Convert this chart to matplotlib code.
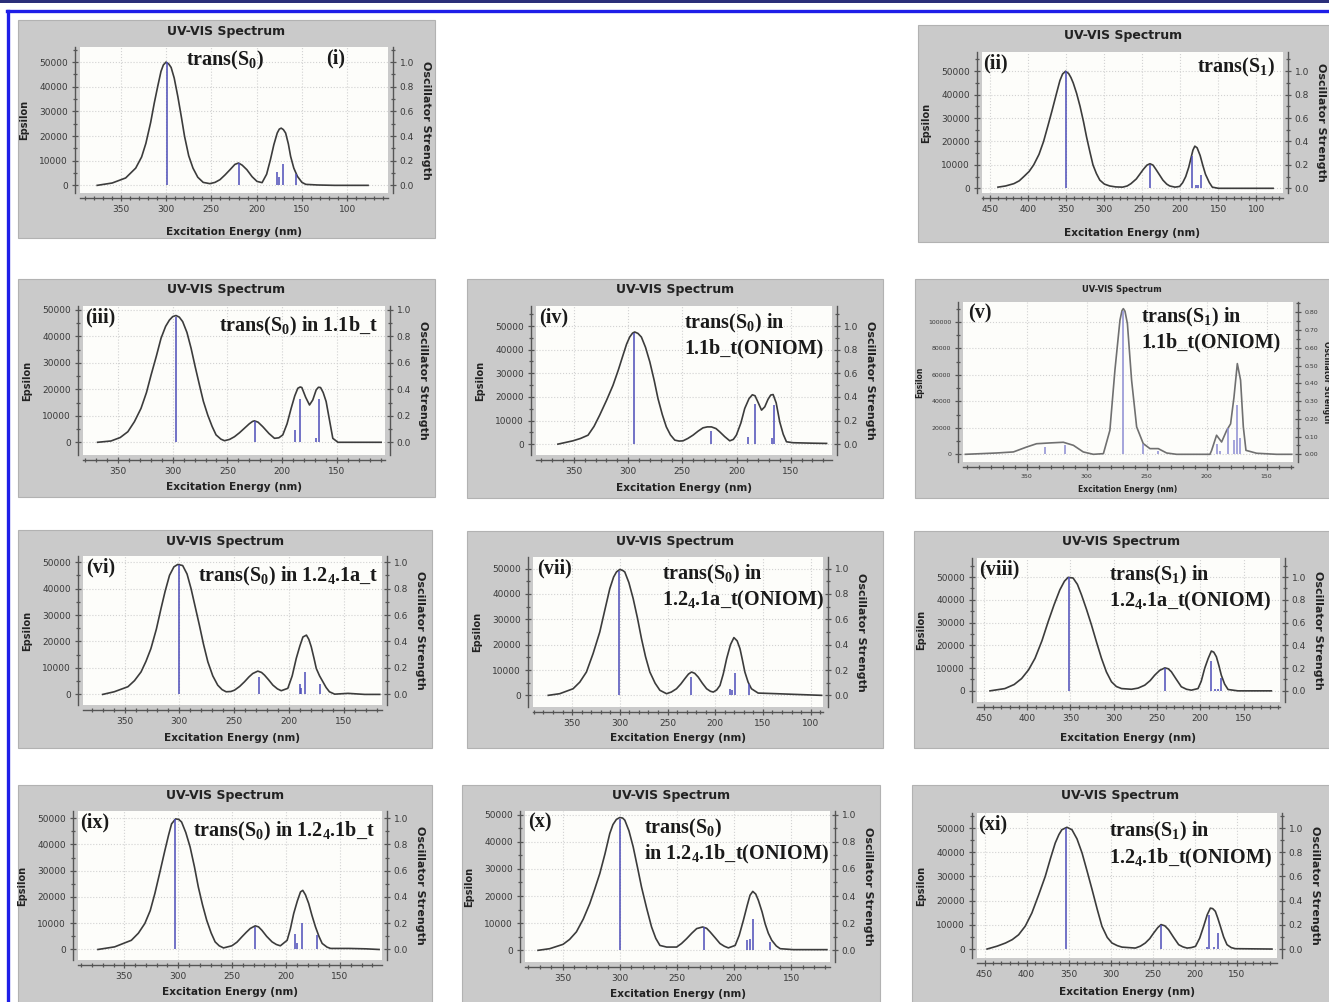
import matplotlib
matplotlib.use('Agg')
import matplotlib.pyplot as plt
from matplotlib.patches import Rectangle
from matplotlib.lines import Line2D
from matplotlib.ticker import MultipleLocator, FixedLocator, FormatStrFormatter

plt.rcParams['mathtext.default'] = 'regular'

W, H = 1329, 1002

# ---------- values: (nm, epsilon) curve points and sticks ----------
# (i) trans(S0)
i_curve = [(376, 0), (359.5, 950), (344.6, 3000), (333.5, 7000), (327, 11500), (322.3, 17000),
           (317, 25500), (313, 33400), (309, 40500), (305.6, 46200), (303, 48800), (300, 50000),
           (297, 49200), (294.4, 47800), (291, 43500), (287, 36000), (283, 27500), (279.6, 19900),
           (275, 12000), (270.3, 7000), (265, 3300), (259, 1200), (251.7, 700), (246, 1200),
           (240.5, 2300), (235, 4200), (229.4, 6350), (224, 8500), (220, 9050), (216, 8200),
           (210.8, 6350), (205, 3500), (199.6, 1600), (194, 1100), (189, 4500), (184.8, 10400),
           (181, 16500), (177.3, 21200), (175, 22800), (172.9, 23200), (170.5, 22600), (168, 21200),
           (165, 16800), (162.5, 11750), (159, 7000), (155, 3650), (150, 1200), (145.7, 400),
           (132.7, 150), (114, 0), (77, 0)]
i_snm = [299, 219.5, 178, 175.5, 170.6, 157]
i_sf = [1.0, 0.18, 0.11, 0.07, 0.17, 0.09]

# (ii) trans(S1)
ii_curve = [(440, 500), (430, 1000), (419, 2000), (412, 3200), (406, 5000), (399, 7200), (393, 10000),
            (386, 14500), (380, 20000), (374, 27000), (369, 33000), (363, 40500), (358.5, 46000),
            (355, 48800), (351, 50000), (347, 49000), (344, 47300), (341, 45000), (336.5, 40500),
            (332, 35000), (327.5, 28500), (323.5, 22000), (319, 15500), (315, 10000), (310.5, 6300),
            (306, 3500), (300, 1800), (293, 1000), (285, 600), (276, 500), (270, 1000), (265, 2000),
            (258, 4000), (253, 6200), (249, 8000), (244, 9900), (240, 10500), (236, 9900), (232, 8000),
            (227, 5500), (223, 3500), (218, 1800), (214, 1000), (207, 500), (201, 800), (197, 2400),
            (193, 5000), (189, 9000), (186, 13000), (183.5, 16300), (181, 18000), (178, 17300),
            (174, 14000), (170.5, 9800), (167, 6000), (162, 2500), (158, 500), (150, 0), (120, 0),
            (78, 0)]
ii_snm = [351, 240, 185, 180, 177, 172.5]
ii_sf = [1.0, 0.2, 0.28, 0.03, 0.03, 0.11]

# (iii) trans(S0) in 1.1b_t
iii_curve = [(368.6, 0), (356.4, 500), (348, 1800), (341, 4000), (335, 7800), (329, 12800),
             (324, 18800), (319.8, 25400), (315, 32500), (310.7, 39300), (306.5, 43800), (303, 46200),
             (300, 47500), (297, 47900), (294, 47300), (290.9, 45600), (287, 41500), (283.2, 35500),
             (279.5, 28600), (275.6, 21700), (272, 15500), (268, 10300), (264, 6000), (260.4, 2800),
             (256, 1200), (252.7, 600), (248, 1100), (243.6, 2100), (239, 3600), (234.5, 5300),
             (230, 7000), (227, 7900), (225.3, 8100), (222, 7600), (217.7, 5900), (212, 3300),
             (207, 1500), (203, 1700), (199.4, 2800), (195.5, 7000), (191.8, 12800), (188.5, 17500),
             (185.7, 20400), (183.5, 20900), (182, 20700), (178.5, 17000), (175, 14100), (172, 16000),
             (168.9, 19800), (166.8, 20800), (164.9, 20700), (162.5, 18800), (159.8, 15400),
             (157, 9000), (153.7, 1500), (149, 0), (109.5, 0)]
iii_snm = [297, 224.7, 188.7, 183.5, 169, 165.9]
iii_sf = [0.95, 0.16, 0.09, 0.33, 0.03, 0.33]

# (iv) trans(S0) in 1.1b_t(ONIOM)
iv_curve = [(364.8, 0), (351, 1400), (344, 2400), (337, 3800), (331.5, 7500), (326.3, 12250),
            (320, 18500), (314, 24900), (309, 31500), (304.8, 37600), (301.5, 42300), (298.6, 45350),
            (296, 47000), (294, 47500), (291, 46900), (287.8, 45350), (284, 41000), (280, 34800),
            (276, 27000), (272.5, 19300), (268.5, 12500), (264.8, 7300), (261, 3900), (257, 1700),
            (253, 1300), (249.4, 1400), (245, 2400), (240.2, 3800), (235.5, 5500), (231, 6900),
            (227, 7300), (223.2, 7300), (219, 6600), (215.5, 5200), (211, 3200), (206.3, 1400),
            (203, 2000), (200.2, 3800), (196, 9000), (192.5, 15100), (188.5, 19300), (185.5, 20900),
            (183, 20500), (180, 17500), (177, 14400), (174, 15800), (171, 19000), (168.5, 20800),
            (166.3, 21000), (163.5, 17500), (160.2, 9400), (157, 4200), (154, 1000), (147.8, 600),
            (130, 400), (117, 300)]
iv_snm = [294.5, 224, 189.2, 183, 167.7, 165.5]
iv_sf = [0.94, 0.11, 0.06, 0.34, 0.05, 0.33]

# (v) trans(S1) in 1.1b_t(ONIOM)
v_curve = [(401, 0), (375, 1000), (361, 1800), (350, 5500), (341.7, 8000), (330.6, 8600),
           (319.4, 9100), (311, 6800), (302.8, 1800), (294.4, 0), (286, 500), (280.6, 18100),
           (276.4, 63500), (272.2, 101300), (270.5, 108500), (269.4, 110000), (268, 108000),
           (266, 98700), (262.5, 55900), (258.3, 20700), (252.8, 8100), (247.2, 4300), (240.3, 4300),
           (233.3, 1000), (225, 0), (197.2, 0), (195.8, 3000), (191.7, 14400), (187.5, 9300),
           (183.3, 18000), (180, 23000), (177.2, 43000), (174.4, 68500), (171.7, 56000),
           (169.4, 20700), (167.2, 3000), (158.3, 800), (141.7, 0), (129, 0)]
v_snm = [334.7, 318, 269.4, 252.8, 240.3, 191.7, 189, 182, 177, 175, 172]
v_sf = [0.04, 0.05, 0.81, 0.06, 0.02, 0.06, 0.02, 0.15, 0.08, 0.28, 0.09]

# (vi) trans(S0) in 1.2_4.1a_t
vi_curve = [(370, 0), (359.5, 1000), (347, 2900), (341, 5200), (335, 8500), (330.5, 12500),
            (326, 17300), (321, 24700), (316.8, 32400), (313, 39000), (309, 45000), (305, 48200),
            (301.5, 49100), (297, 48700), (293, 45500), (289.3, 39900), (285.5, 33000),
            (281.7, 26100), (278, 19000), (274, 12300), (269.5, 7000), (265, 3500), (261, 1800),
            (257.3, 1000), (253, 1100), (249.7, 1600), (245, 3000), (240.5, 4800), (236.5, 6600),
            (233, 7900), (228.4, 8800), (225, 8300), (222.3, 7300), (218.5, 5500), (214.6, 3500),
            (210.5, 2100), (207, 1400), (201, 2300), (197, 7000), (193.3, 13600), (190, 18300),
            (187.2, 21700), (184, 22400), (181.8, 20800), (179.6, 18000), (177, 13500), (175, 9800),
            (172, 7000), (169, 4800), (166, 2600), (163, 1000), (158.2, 100), (146, 400),
            (130.8, 0), (117, 0)]
vi_snm = [300, 227.7, 190.2, 188.7, 185, 172]
vi_sf = [0.98, 0.13, 0.08, 0.05, 0.17, 0.075]

# (vii) trans(S0) in 1.2_4.1a_t(ONIOM)
vii_curve = [(375, 0), (363, 650), (349, 2600), (342, 5200), (335, 9200), (328, 16500), (321, 25000),
             (315.5, 34000), (310.5, 42100), (306.5, 46700), (303.5, 48700), (300, 49700),
             (297, 49300), (294.8, 48700), (290.5, 44500), (286, 38200), (281.5, 30500),
             (277.3, 22400), (273, 15200), (268.5, 9200), (263, 4800), (258, 2000), (251, 650),
             (246, 1300), (240.6, 2600), (236, 4500), (231.8, 6600), (228, 8400), (224.8, 9200),
             (221.5, 8700), (217.8, 7200), (213.5, 4800), (209, 2600), (205, 1600), (202, 1300),
             (198.5, 2100), (195, 3900), (191.5, 8500), (188, 14500), (184, 20000), (180.4, 22800),
             (177, 21500), (174, 18400), (171.5, 14000), (168.9, 9200), (165.5, 5200), (162, 2600),
             (155, 900), (135.7, 650), (118, 400), (88.5, 0)]
vii_snm = [300.7, 225.5, 184.6, 182.9, 179.4, 165]
vii_sf = [0.98, 0.145, 0.05, 0.04, 0.18, 0.09]

# (viii) trans(S1) in 1.2_4.1a_t(ONIOM)
viii_curve = [(443, 0), (425.8, 1000), (415, 2800), (406.5, 5400), (398.5, 9200), (391, 14300),
              (383, 22000), (375.8, 30400), (369, 37800), (362.3, 44400), (357, 48200),
              (352.7, 49900), (347, 49600), (342, 46800), (337.3, 42200), (331.5, 35800),
              (325.8, 29000), (320, 21500), (314.2, 14300), (308.5, 8300), (302.7, 4000),
              (297, 1900), (291, 1000), (279.6, 700), (272, 1200), (264.2, 2500), (258, 4500),
              (252.7, 6900), (247, 9000), (241, 10100), (237, 9700), (233.5, 8400), (228, 5200),
              (222, 1800), (216, 700), (210.4, 300), (202.7, 1000), (199, 4200), (195, 9900),
              (191, 14200), (187.3, 17500), (184.5, 17000), (181.5, 15000), (178.5, 11000),
              (175.8, 6900), (172, 3000), (168, 600), (156.5, 0), (118, 0)]
viii_snm = [352, 241, 187.3, 183.5, 179.6, 175.8]
viii_sf = [1.0, 0.2, 0.26, 0.02, 0.02, 0.11]

# (ix) trans(S0) in 1.2_4.1b_t
ix_curve = [(374.5, 0), (359, 1000), (343.5, 3500), (337, 6200), (331, 9900), (326, 14800),
            (321.7, 21300), (317, 29500), (312.4, 37700), (309, 43500), (306.2, 47800),
            (302.5, 49700), (299.5, 49500), (296.9, 48500), (293, 44500), (289, 39000), (285, 31500),
            (281.4, 23800), (277.5, 17000), (273.6, 11100), (269.5, 6300), (265.8, 2900),
            (262, 1400), (258, 600), (250.3, 1400), (245.5, 2800), (241, 4800), (237, 6500),
            (233.2, 8000), (228.6, 9000), (225.5, 8600), (222.4, 7300), (218, 5000), (213, 2900),
            (209, 1900), (205.3, 1400), (199, 3500), (196, 7800), (192.9, 13700), (189.5, 18500),
            (186.6, 21900), (184.5, 22500), (182, 20800), (179, 17500), (176, 13000), (172.7, 8600),
            (169.5, 5000), (166.5, 2300), (162, 900), (158.7, 400), (141.6, 400), (126, 250),
            (113.7, 0)]
ix_snm = [303, 229, 191.3, 189.8, 185, 171]
ix_sf = [0.99, 0.17, 0.12, 0.05, 0.2, 0.11]

# (x) trans(S0) in 1.2_4.1b_t(ONIOM)
x_curve = [(371.6, 0), (361.4, 600), (349.7, 2200), (344, 4000), (338, 6800), (332, 11500),
           (326.3, 17200), (322, 22500), (317.5, 28300), (313, 35500), (308.8, 43000), (306, 46300),
           (303, 48200), (300, 48900), (297.5, 48700), (295.6, 47900), (292, 44000), (288.3, 38100),
           (284.5, 30500), (281, 23300), (276.5, 15500), (272.2, 8600), (268.5, 4400),
           (264.9, 1800), (259, 1200), (250.3, 1200), (246, 2500), (241.5, 4300), (237, 6300),
           (232.7, 8000), (227.5, 8600), (224, 8100), (221, 6800), (216.5, 4600), (212.3, 2500),
           (208.5, 1500), (205, 900), (199, 1800), (195.5, 5500), (191.8, 11100), (188.5, 16500),
           (186, 20300), (183.6, 21700), (181, 20700), (178.7, 18400), (175.5, 14200),
           (172.8, 9800), (170, 6300), (167, 3700), (163, 1600), (159.6, 600), (148, 250),
           (118.7, 250)]
x_snm = [300, 226, 188.3, 186, 183.6, 168.4]
x_sf = [0.97, 0.17, 0.074, 0.08, 0.23, 0.06]

# (xi) trans(S1) in 1.2_4.1b_t(ONIOM)
xi_curve = [(447, 0), (435, 1200), (425, 2500), (417, 3900), (409.5, 5900), (401.5, 9500),
            (393.7, 14900), (385.5, 22500), (377.8, 30000), (371.5, 37500), (365.9, 43800),
            (361.5, 47300), (358, 49300), (352, 50300), (346, 49300), (340, 45500), (334, 39700),
            (328, 32200), (322, 24500), (316, 16500), (310.3, 9400), (304, 4800), (298.4, 2500),
            (292, 1400), (286.5, 800), (270.6, 400), (264.5, 1200), (258.7, 2500), (253.5, 4300),
            (248.8, 6600), (244, 8800), (240, 10100), (235.5, 9600), (231, 8000), (225, 4800),
            (219, 1800), (214, 900), (209, 400), (204, 600), (199, 1100), (194, 4500),
            (189.3, 9400), (185, 14200), (181.3, 16900), (178.5, 16700), (175.4, 15600),
            (172.5, 12800), (169.4, 9400), (165.5, 5000), (161.5, 1800), (156.5, 600),
            (151.6, 150), (108, 0)]
xi_snm = [352.5, 240, 185.3, 182.5, 177.4, 172.6]
xi_sf = [1.0, 0.2, 0.02, 0.28, 0.02, 0.13]

tags = ['(i)', '(ii)', '(iii)', '(iv)', '(v)', '(vi)', '(vii)', '(viii)', '(ix)', '(x)', '(xi)']
names = ['trans(S$_0$)',
         'trans(S$_1$)',
         'trans(S$_0$) in 1.1b_t',
         'trans(S$_0$) in\n1.1b_t(ONIOM)',
         'trans(S$_1$) in\n1.1b_t(ONIOM)',
         'trans(S$_0$) in 1.2$_4$.1a_t',
         'trans(S$_0$) in\n1.2$_4$.1a_t(ONIOM)',
         'trans(S$_1$) in\n1.2$_4$.1a_t(ONIOM)',
         'trans(S$_0$) in 1.2$_4$.1b_t',
         'trans(S$_0$)\nin 1.2$_4$.1b_t(ONIOM)',
         'trans(S$_1$) in\n1.2$_4$.1b_t(ONIOM)']
spectra = [(i_curve, i_snm, i_sf), (ii_curve, ii_snm, ii_sf), (iii_curve, iii_snm, iii_sf),
           (iv_curve, iv_snm, iv_sf), (v_curve, v_snm, v_sf), (vi_curve, vi_snm, vi_sf),
           (vii_curve, vii_snm, vii_sf), (viii_curve, viii_snm, viii_sf),
           (ix_curve, ix_snm, ix_sf), (x_curve, x_snm, x_sf), (xi_curve, xi_snm, xi_sf)]

# ---------- layout (pixels) ----------
layout = [
    dict(box=(18, 20, 435, 238), plot=(80, 47, 388, 193), xlim=(395, 55), ylim=(-3100, 56100),
         tag=(0.80, 'left'), name=(0.47, 0.985, 'center'), xl=6),
    dict(box=(918, 25, 1335, 242), plot=(982, 52, 1283, 193), xlim=(461, 65), ylim=(-2000, 58200),
         tag=(0.005, 'left'), name=(0.975, 0.975, 'right'), xl=9),
    dict(box=(18, 279, 435, 497), plot=(83, 306, 385, 455), xlim=(382, 106), ylim=(-4800, 51500),
         tag=(0.008, 'left'), name=(0.975, 0.94, 'right'), xl=10),
    dict(box=(467, 279, 883, 498), plot=(536, 306, 832, 455), xlim=(385, 112), ylim=(-4600, 58500),
         tag=(0.01, 'left'), name=(0.50, 0.96, 'left'), xl=10),
    dict(box=(915, 279, 1335, 498), plot=(963, 302, 1293, 462), xlim=(403, 128), ylim=(-5800, 115000),
         tag=(0.015, 'left'), name=(0.54, 0.975, 'left'), xl=9),
    dict(box=(18, 530, 432, 748), plot=(83, 556, 382, 705), xlim=(388, 115), ylim=(-4000, 52300),
         tag=(0.01, 'left'), name=(0.99, 0.94, 'right'), xl=10),
    dict(box=(467, 531, 883, 748), plot=(533, 557, 823, 707), xlim=(391, 87), ylim=(-4600, 54600),
         tag=(0.013, 'left'), name=(0.445, 0.96, 'left'), xl=10),
    dict(box=(914, 531, 1335, 748), plot=(977, 558, 1280, 702), xlim=(458, 108), ylim=(-4900, 58400),
         tag=(0.007, 'left'), name=(0.435, 0.96, 'left'), xl=10),
    dict(box=(18, 785, 432, 1010), plot=(78, 811, 382, 960), xlim=(393, 111), ylim=(-4000, 52700),
         tag=(0.007, 'left'), name=(0.975, 0.94, 'right'), xl=18),
    dict(box=(462, 785, 880, 1010), plot=(525, 811, 830, 962), xlim=(383, 116), ylim=(-4300, 51300),
         tag=(0.01, 'left'), name=(0.39, 0.96, 'left'), xl=16),
    dict(box=(912, 785, 1335, 1010), plot=(977, 813, 1277, 958), xlim=(459, 102), ylim=(-3700, 56200),
         tag=(0.003, 'left'), name=(0.44, 0.95, 'left'), xl=18),
]

fig = plt.figure(figsize=(W / 100, H / 100), dpi=100)
fig.patch.set_facecolor('white')

# frame lines
fig.add_artist(Rectangle((0, 1 - 2.5 / H), 1, 2.5 / H, transform=fig.transFigure,
                         facecolor='#2b2f7a', edgecolor='none', zorder=-2))
fig.add_artist(Line2D([7 / W, 1], [1 - 11 / H, 1 - 11 / H], transform=fig.transFigure,
                      color='#1e1ee8', lw=2.4))
fig.add_artist(Line2D([8 / W, 8 / W], [0, 1 - 11 / H], transform=fig.transFigure,
                      color='#1e1ee8', lw=2.4))

for k, (lay, (curve, snm, sf)) in enumerate(zip(layout, spectra)):
    small = (k == 4)
    fs_tick = 4.5 if small else 6.5
    fs_lab = 5.5 if small else 7.6
    fs_title = 6 if small else 9
    scale = 134000 if small else 50000
    nm = [p[0] for p in curve]
    eps = [p[1] for p in curve]

    bx0, by0, bx1, by1 = lay['box']
    fig.add_artist(Rectangle((bx0 / W, 1 - by1 / H), (bx1 - bx0) / W, (by1 - by0) / H,
                             transform=fig.transFigure, facecolor='#cacaca',
                             edgecolor='#b2b2b2', lw=0.8, zorder=-1))
    x0, y0, x1, y1 = lay['plot']
    ax = fig.add_axes([x0 / W, 1 - y1 / H, (x1 - x0) / W, (y1 - y0) / H])
    ax.set_facecolor('#fdfdfa')
    ax.plot(nm, eps, color='#707070' if small else '#3c3c3c', lw=1.2, solid_joinstyle='round')
    ax.set_xlim(lay['xlim'])
    ax.set_ylim(lay['ylim'])

    ax2 = ax.twinx()
    ax2.set_ylim(lay['ylim'][0] / scale, lay['ylim'][1] / scale)
    ax2.vlines(snm, 0, sf, color='#8c8cd2' if small else '#4c4cb8', lw=1.1)

    if small:
        ax.xaxis.set_major_locator(FixedLocator([350, 300, 250, 200, 150]))
    else:
        ax.xaxis.set_major_locator(MultipleLocator(50))
    ax.xaxis.set_minor_locator(MultipleLocator(10))
    ax.yaxis.set_major_locator(MultipleLocator(20000 if small else 10000))
    ax.yaxis.set_minor_locator(MultipleLocator(10000 if small else 5000))
    ax.yaxis.set_major_formatter(FormatStrFormatter('%d'))
    ax2.yaxis.set_major_locator(MultipleLocator(0.1 if small else 0.2))
    ax2.yaxis.set_minor_locator(MultipleLocator(0.05 if small else 0.1))
    ax2.yaxis.set_major_formatter(FormatStrFormatter('%.2f' if small else '%.1f'))

    for a in (ax, ax2):
        for s in a.spines.values():
            s.set_visible(False)
    for a, side in ((ax, 'left'), (ax, 'bottom'), (ax2, 'right')):
        a.spines[side].set_visible(True)
        a.spines[side].set_position(('outward', 3.5))
        a.spines[side].set_color('#555555')
        a.spines[side].set_linewidth(1.0)
    for a in (ax, ax2):
        a.tick_params(which='both', direction='inout', color='#555555', width=0.9,
                      labelsize=fs_tick, labelcolor='#3a3a3a', pad=2.5)
        a.tick_params(which='major', length=5)
        a.tick_params(which='minor', length=3)
    ax.grid(True, which='major', color='#d2d2d2', ls=':', lw=0.8)
    ax.set_axisbelow(True)

    # panel texts
    ax.text(lay['tag'][0], 0.99, tags[k], transform=ax.transAxes, ha=lay['tag'][1], va='top',
            family='Liberation Serif', weight='bold', fontsize=14.5, color='#1a1a1a', zorder=5)
    nx, ny, nha = lay['name']
    ax.text(nx, ny, names[k], transform=ax.transAxes, ha=nha, va='top', multialignment='left',
            family='Liberation Serif', weight='bold', fontsize=14.5, color='#1a1a1a',
            linespacing=1.2, zorder=5)

    # titles and axis labels
    cx = (bx0 + min(bx1, W)) / 2
    fig.text(cx / W, 1 - (by0 + 11) / H, 'UV-VIS Spectrum', ha='center', va='center',
             fontsize=fs_title, weight='bold', color='#222222')
    fig.text(((x0 + x1) / 2) / W, 1 - (by1 - lay['xl']) / H, 'Excitation Energy (nm)',
             ha='center', va='center', fontsize=fs_lab, weight='bold', color='#222222')
    fig.text((x0 - (43 if small else 56)) / W, 1 - ((y0 + y1) / 2) / H, 'Epsilon', rotation=90,
             ha='center', va='center', fontsize=5.5 if small else 7, weight='bold', color='#222222')
    fig.text((x1 + (34 if small else 38)) / W, 1 - ((y0 + y1) / 2) / H, 'Oscillator Strength',
             rotation=270, ha='center', va='center', fontsize=5.5 if small else 8, weight='bold',
             color='#222222')

fig.savefig('out.png', dpi=100, facecolor='white')
